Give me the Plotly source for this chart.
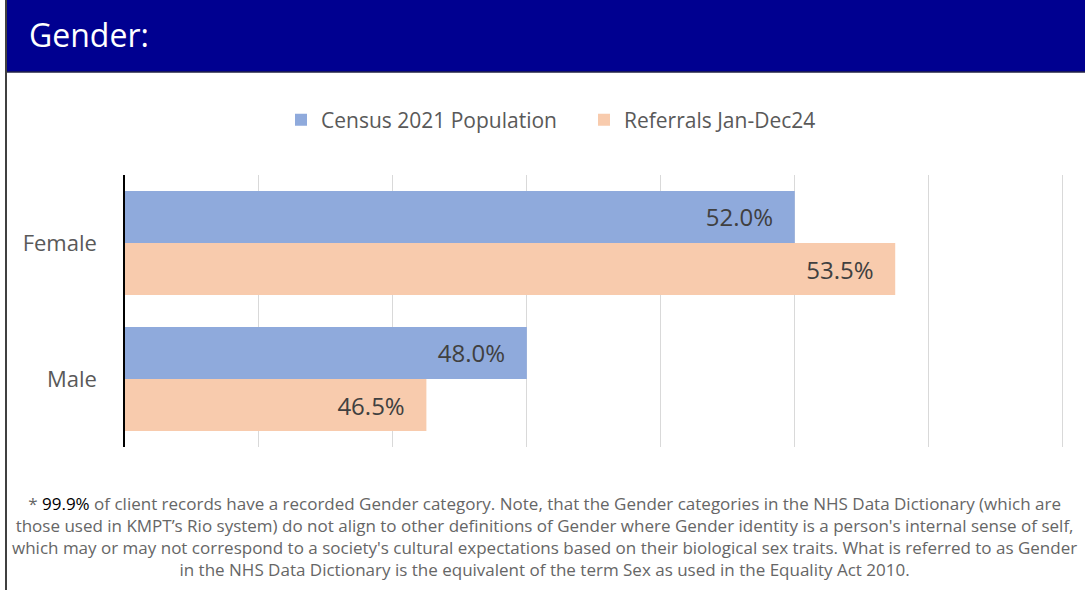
import plotly.graph_objects as go

categories = ["Female", "Male"]
census_2021 = [52.0, 48.0]
referrals_2024 = [53.5, 46.5]
series_names = ["Census 2021 Population", "Referrals Jan-Dec24"]

W, H = 1085, 590
LABEL_FONT = dict(family="Open Sans", size=24, color="#404040")

fig = go.Figure()
fig.add_trace(go.Bar(
    y=categories, x=census_2021, orientation="h", name=series_names[0],
    marker=dict(color="#8FAADC", line=dict(width=0)),
    texttemplate="%{x:.1f}%\u00a0\u00a0\u00a0", textposition="inside", insidetextanchor="end",
    textfont=LABEL_FONT,
))
fig.add_trace(go.Bar(
    y=categories, x=referrals_2024, orientation="h", name=series_names[1],
    marker=dict(color="#F8CBAD", line=dict(width=0)),
    texttemplate="%{x:.1f}%\u00a0\u00a0\u00a0", textposition="inside", insidetextanchor="end",
    textfont=LABEL_FONT,
))

footnote = (
    "* <span style='color:#000000'>99.9%</span> of client records have a recorded Gender category. "
    "Note, that the Gender categories in the NHS Data Dictionary (which are<br>"
    "those used in KMPT’s Rio system) do not align to other definitions of Gender where Gender identity "
    "is a person's internal sense of self,<br>"
    "which may or may not correspond to a society's cultural expectations based on their biological sex "
    "traits. What is referred to as Gender<br>"
    "in the NHS Data Dictionary is the equivalent of the term Sex as used in the Equality Act 2010."
)

fig.update_layout(
    width=W, height=H,
    margin=dict(l=0, r=0, t=0, b=0),
    paper_bgcolor="white", plot_bgcolor="white",
    barmode="group", bargap=0.235, bargroupgap=0,
    showlegend=True,
    legend=dict(orientation="h", x=281 / W, xanchor="left", y=1 - 120 / H, yanchor="middle",
                font=dict(family="Open Sans", size=21, color="#595959"),
                entrywidth=258, entrywidthmode="pixels", traceorder="normal"),
    xaxis=dict(domain=[125 / W, 1064 / W], range=[42, 56.02], dtick=2, showticklabels=False,
               showgrid=True, gridcolor="#D9D9D9", gridwidth=1, zeroline=False, fixedrange=True),
    yaxis=dict(domain=[1 - 447 / H, 1 - 175 / H], autorange="reversed",
               showline=True, linecolor="#000000", linewidth=1.5,
               tickfont=dict(family="Open Sans", size=22, color="#595959"), ticks="",
               ticklabelstandoff=22),
    shapes=[
        dict(type="rect", xref="paper", yref="paper", x0=6 / W, x1=1, y0=1 - 72 / H, y1=1,
             fillcolor="#000090", line=dict(width=0), layer="below"),
        dict(type="line", xref="paper", yref="paper", x0=6 / W, x1=1, y0=1 - 72 / H, y1=1 - 72 / H,
             line=dict(color="#222244", width=1.5)),
        dict(type="line", xref="paper", yref="paper", x0=6 / W, x1=6 / W, y0=0, y1=1,
             line=dict(color="#404040", width=2)),
    ],
    annotations=[
        dict(text="Gender:", xref="paper", yref="paper", x=27 / W, y=1 - 35 / H,
             xanchor="left", yanchor="middle", showarrow=False,
             font=dict(family="Open Sans", size=32, color="white")),
        dict(text=footnote, xref="paper", yref="paper", x=544 / W, y=1 - 536 / H,
             xanchor="center", yanchor="middle", align="center", showarrow=False,
             font=dict(family="Open Sans", size=17, color="#666666")),
    ],
)

fig.write_html("out.html", config={"displayModeBar": False},
               post_script="document.body.style.margin='0';")
